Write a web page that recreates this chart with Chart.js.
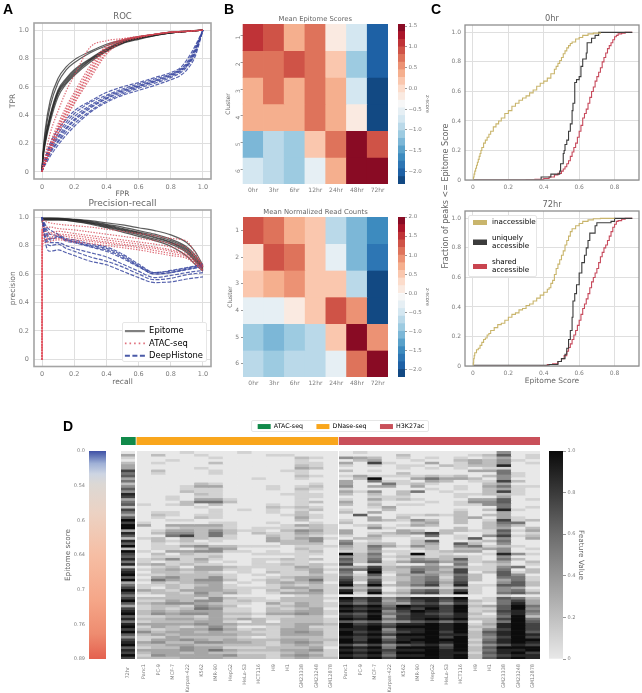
<!DOCTYPE html>
<html>
<head>
<meta charset="utf-8">
<title>Epitome figure</title>
<script src="https://cdn.jsdelivr.net/npm/chart.js@4"></script>
<style>
  html, body { margin: 0; padding: 0; background: #fff; overflow: hidden; }
  #page { position: relative; width: 642px; height: 693px; font-family: "DejaVu Sans", sans-serif; filter: blur(.35px); }
  #page canvas { position: absolute; }
  .letter { position: absolute; font: bold 14px "Liberation Sans", Arial, sans-serif; color: #000; line-height: 1; }
  .sideLabel { position: absolute; font-size: 8px; color: #666; white-space: nowrap; transform: translate(-50%, -50%) rotate(-90deg); }
  .legendBox { position: absolute; background: #fff; border: 1px solid #e6e6e6; border-radius: 2px; overflow: hidden; box-sizing: border-box; }
</style>
</head>
<body>
<div id="page"></div>
<script>
// Panel A: ROC
const rocFpr = [0, .005, .02, .05, .1, .15, .2, .3, .4, .5, .6, .7, .8, .9, 1];
const rocEpitome = [
  [0, .12, .30, .50, .66, .74, .79, .85, .90, .93, .955, .97, .985, .993, 1],
  [0, .11, .27, .46, .63, .72, .77, .84, .89, .925, .95, .97, .985, .993, 1],
  [0, .10, .24, .40, .58, .66, .72, .80, .87, .92, .945, .965, .98, .99, 1],
  [0, .10, .23, .39, .57, .65, .71, .795, .865, .915, .945, .965, .98, .99, 1],
  [0, .09, .22, .38, .56, .64, .70, .79, .86, .91, .94, .965, .98, .99, 1],
  [0, .09, .21, .37, .55, .63, .69, .785, .855, .91, .94, .96, .98, .99, 1],
  [0, .08, .20, .35, .53, .62, .68, .775, .85, .905, .935, .96, .98, .99, 1]
];
const rocAtac = [
  [0, .05, .12, .27, .43, .57, .68, .88, .925, .94, .955, .97, .985, .993, 1],
  [0, .03, .09, .20, .34, .46, .56, .75, .89, .935, .955, .97, .985, .993, 1],
  [0, .03, .08, .18, .32, .44, .54, .73, .88, .93, .955, .97, .985, .993, 1],
  [0, .03, .08, .17, .31, .42, .52, .71, .87, .93, .95, .97, .985, .99, 1],
  [0, .02, .07, .16, .30, .41, .51, .70, .86, .925, .95, .97, .985, .99, 1],
  [0, .02, .06, .15, .28, .39, .49, .68, .84, .92, .95, .97, .985, .99, 1],
  [0, .02, .06, .14, .27, .38, .48, .66, .83, .915, .945, .97, .985, .99, 1]
];
const rocDeepFpr = [0, .005, .02, .05, .1, .15, .2, .3, .4, .5, .6, .7, .8, .86, .9, .95, 1];
const rocDeep = [
  [0, .04, .10, .20, .30, .37, .43, .50, .56, .60, .63, .665, .70, .735, .79, .885, 1],
  [0, .03, .09, .18, .27, .35, .41, .49, .54, .585, .62, .655, .69, .725, .77, .87, 1],
  [0, .03, .08, .17, .25, .33, .39, .47, .53, .575, .61, .645, .685, .72, .76, .86, 1],
  [0, .03, .07, .15, .24, .31, .37, .46, .52, .57, .605, .64, .68, .715, .75, .85, 1],
  [0, .02, .07, .14, .22, .30, .36, .45, .515, .56, .60, .635, .675, .71, .75, .84, 1],
  [0, .02, .06, .13, .21, .28, .34, .43, .50, .55, .59, .625, .665, .70, .74, .83, 1],
  [0, .02, .05, .11, .19, .26, .32, .42, .49, .54, .575, .61, .65, .68, .72, .81, 1]
];

// Panel A: precision-recall
const prRecall = [0, .003, .02, .05, .1, .2, .3, .4, .5, .6, .7, .8, .9, .95, 1];
const prEpitome = [
  [1, .995, .995, .995, .993, .985, .975, .96, .945, .925, .905, .875, .82, .76, .66],
  [1, .99, .99, .99, .99, .982, .97, .95, .93, .905, .88, .845, .79, .735, .65],
  [.98, .99, .99, .99, .99, .98, .965, .945, .92, .895, .87, .835, .78, .72, .65],
  [.98, .985, .985, .985, .985, .98, .96, .94, .915, .89, .86, .825, .77, .71, .64],
  [.97, .985, .985, .985, .985, .975, .96, .935, .91, .885, .855, .82, .76, .70, .64],
  [.97, .98, .98, .98, .98, .97, .955, .93, .905, .875, .845, .81, .75, .69, .63],
  [.96, .98, .98, .98, .98, .97, .95, .925, .895, .865, .835, .795, .725, .67, .62]
];
const prAtac = [
  [0, .98, .97, .96, .95, .94, .93, .915, .90, .885, .87, .85, .83, .75, .66],
  [0, .90, .93, .93, .92, .91, .895, .88, .865, .85, .835, .815, .785, .73, .65],
  [0, .85, .90, .89, .90, .885, .87, .855, .84, .825, .81, .79, .76, .72, .65],
  [0, .88, .87, .88, .88, .87, .855, .84, .825, .81, .79, .77, .74, .70, .64],
  [0, .80, .85, .86, .87, .855, .84, .825, .81, .795, .78, .76, .73, .69, .63],
  [0, .85, .84, .85, .85, .84, .83, .815, .80, .785, .765, .745, .72, .68, .62],
  [0, .83, .82, .83, .84, .825, .815, .80, .785, .77, .75, .73, .71, .67, .62]
];
const prAtacRise = [0, .92];
const prDeepRecall = [0, .01, .03, .05, .1, .15, .2, .3, .4, .5, .6, .7, .8, .9, 1];
const prDeep = [
  [1, .97, .93, .91, .88, .85, .84, .81, .79, .74, .67, .61, .625, .645, .67],
  [1, .96, .91, .88, .87, .84, .83, .80, .78, .73, .66, .61, .62, .64, .665],
  [1, .95, .89, .85, .865, .84, .825, .795, .77, .72, .655, .60, .61, .635, .655],
  [1, .94, .87, .84, .86, .83, .82, .79, .76, .71, .65, .60, .61, .63, .65],
  [1, .92, .84, .82, .82, .80, .78, .75, .72, .67, .62, .575, .59, .61, .625],
  [1, .91, .82, .80, .81, .78, .76, .72, .69, .65, .60, .56, .57, .595, .61],
  [1, .90, .78, .76, .77, .75, .73, .69, .665, .62, .575, .54, .545, .565, .58]
];

// Panel B: heatmaps
const hours = ['0hr', '3hr', '6hr', '12hr', '24hr', '48hr', '72hr'];
const clusters = ['1', '2', '3', '4', '5', '6'];
const epitomeScores = [
  [1.09, .91, .36, .72, -.19, -.74, -2.02],
  [.72, .72, .91, .72, .17, -1.11, -2.02],
  [.36, .72, .36, .72, .36, -.74, -2.21],
  [.36, .36, .36, .72, .36, -.19, -2.21],
  [-1.29, -.93, -1.11, .17, .72, 1.46, .91],
  [-.74, -.93, -1.11, -.56, .36, 1.46, 1.46]
];
const readCounts = [
  [1.3, 1.1, .7, .5, -.7, -1.1, -1.5],
  [.3, 1.3, 1.1, .5, -.3, -1.1, -1.7],
  [.5, .7, .9, .5, .5, -.7, -2.1],
  [-.3, -.3, .1, .5, 1.3, .9, -2.1],
  [-.9, -1.1, -.9, -.7, .5, 1.9, .9],
  [-.7, -.9, -.7, -.7, -.3, 1.1, 1.9]
];
const scoreEdges = [-2.3, -2.117, -1.933, -1.75, -1.567, -1.383, -1.2, -1.017, -.833, -.65, -.467, -.283, -.1, .083, .267, .45, .633, .817, 1, 1.183, 1.367, 1.55];
const countEdges = [-2.2, -2, -1.8, -1.6, -1.4, -1.2, -1, -.8, -.6, -.4, -.2, 0, .2, .4, .6, .8, 1, 1.2, 1.4, 1.6, 1.8, 2];
const rdbu = ['#124983', '#1e61a5', '#2d76b4', '#3d8bbf', '#59a1ca', '#7cb7d7', '#9dcbe1', '#bad9e9', '#d4e7f1', '#e6eff4', '#f7f7f7',
  '#faeae1', '#fcdccb', '#fac7ae', '#f5af8e', '#ec9274', '#de735b', '#cf5347', '#bf3337', '#ab162a', '#890b24'];

// Panel C: empirical CDFs
const tan0X = [0, .003, .006, .01, .015, .02, .025, .03, .035, .04, .045, .05, .06, .07, .08, .09, .1, .115, .13, .145, .16, .18, .2, .22, .24, .26, .28, .3, .32, .34, .36, .38, .4, .42, .44, .46, .47, .48, .49, .5, .51, .52, .53, .54, .55, .56, .58, .6, .62, .65, .68, .72];
const tan0Y = [0, .02, .04, .06, .08, .1, .12, .14, .16, .18, .2, .22, .25, .27, .29, .31, .33, .36, .38, .4, .42, .45, .47, .5, .52, .54, .555, .57, .59, .61, .635, .655, .67, .69, .72, .75, .77, .79, .81, .83, .855, .875, .895, .91, .925, .935, .955, .965, .98, .99, .995, 1];
const unique0X = [0, .385, .44, .49, .495, .51, .515, .52, .53, .54, .55, .56, .565, .575, .585, .6, .61, .62, .64, .645, .67, .69, .71, .9];
const unique0Y = [0, .02, .04, .06, .11, .18, .2, .24, .27, .33, .38, .47, .52, .66, .68, .7, .77, .82, .86, .93, .96, .98, 1, 1];
const shared0X = [0, .2, .3, .35, .4, .43, .46, .48, .5, .51, .52, .53, .54, .55, .56, .57, .58, .59, .6, .61, .62, .63, .64, .65, .66, .67, .68, .69, .7, .71, .72, .73, .74, .75, .76, .77, .78, .79, .8, .81, .82, .84, .86, .9];
const shared0Y = [0, 0, .002, .004, .01, .02, .035, .045, .06, .075, .09, .11, .13, .16, .19, .22, .25, .29, .33, .37, .42, .45, .48, .52, .56, .6, .63, .67, .7, .73, .76, .8, .83, .86, .89, .91, .93, .95, .97, .98, .99, .995, 1, 1];

const tan72X = [0, .002, .004, .007, .01, .02, .03, .04, .05, .06, .07, .08, .09, .1, .12, .14, .16, .18, .2, .22, .24, .26, .28, .3, .32, .34, .36, .38, .4, .42, .43, .44, .45, .46, .47, .48, .49, .5, .51, .52, .53, .54, .55, .56, .58, .6, .62, .65, .68, .72, .8];
const tan72Y = [0, .02, .05, .07, .09, .11, .12, .14, .16, .18, .19, .21, .22, .24, .26, .28, .29, .31, .33, .35, .36, .38, .39, .41, .42, .44, .46, .48, .5, .52, .53, .56, .58, .62, .66, .69, .72, .75, .78, .82, .85, .88, .91, .93, .95, .965, .98, .99, .998, 1, 1];
const unique72X = [0, .38, .43, .48, .5, .52, .53, .54, .55, .56, .565, .575, .585, .6, .615, .63, .64, .65, .66, .69, .7, .78, .8, .9];
const unique72Y = [.005, .005, .01, .03, .05, .08, .12, .18, .24, .33, .44, .49, .55, .63, .7, .75, .8, .85, .9, .95, .97, .98, 1, 1];
const shared72X = [0, .38, .42, .45, .48, .5, .515, .53, .54, .55, .56, .57, .58, .59, .6, .61, .62, .63, .64, .65, .66, .67, .68, .69, .7, .71, .72, .73, .74, .75, .76, .77, .78, .79, .8, .81, .82, .84, .86, .9];
const shared72Y = [0, .003, .01, .015, .03, .05, .07, .1, .125, .15, .18, .21, .24, .275, .31, .35, .39, .42, .455, .49, .53, .57, .6, .63, .66, .7, .74, .77, .8, .82, .85, .88, .91, .94, .96, .98, .985, .995, 1, 1];

// Panel D: feature values, one digit per cell (0 lightest, 9 darkest)
const cellLines = ['Panc1', 'PC-9', 'MCF-7', 'Karpas-422', 'K562', 'IMR-90', 'HepG2', 'HeLa-S3', 'HCT116', 'H9', 'H1', 'GM23338', 'GM23248', 'GM12878'];
const atacLabels = ['72hr'];
const groupNames = ['ATAC-seq', 'DNase-seq', 'H3K27ac'];
const groupSizes = [1, 14, 14];
const atacColumn = '03102337563524648735627536979938628692976858278969357975796378968589796478968797';
const dnaseRows = [
  '00010001000000', '02001000011000', '00000100000210', '00100000000100', '01000200000110', '00000000000210', '00001000000320', '02000100001100',
  '01000100000100', '00000000000210', '00000000100100', '00000000000000', '00002100000010', '00013300010120', '00011100010210', '00021100000100',
  '00002100001110', '00101100000110', '00103310000100', '00025520000120', '10120200010100', '00001000021210', '00000101010120', '01100100010200',
  '02101100001210', '01002100000310', '00110000000200', '10000110010010', '30333310001321', '00122210111121', '01332421102431', '02442520211321',
  '00572510021210', '12022110031341', '02120100032240', '01011000002220', '01134221110111', '01102430000210', '10334411010120', '02021100111110',
  '01111200000100', '12413100112120', '10112010101100', '23121100112121', '01203321111320', '12323311011231', '02212101021130', '11222210101121',
  '03422410012331', '15324420121351', '02123301023230', '11212310012121', '10213311113321', '32133321021241', '12214231013331', '00223200000120',
  '22221421102221', '11324412112220', '23443211031321', '12214320012321', '12125411021230', '23233311022331', '24344322133431', '11221311011220',
  '22332323212221', '12223310202221', '33334332222332', '13212420012311', '21233531213321', '42332322113431', '23233332213331', '11322221012221',
  '13343232223322', '34224433213431', '22332222212321', '12243311122230', '33343532223341', '23323221112321', '14333342213431', '22233322212322'
];
const h3k27acRows = [
  '01000000000400', '00002000012601', '43201010101301', '02300100232410', '30710030132401', '10101102122800', '00001010101100', '20100000033500',
  '00002000000510', '13111121202410', '02900353320400', '30511032011720', '30051210002300', '40330300103511', '10000010102310', '31402501002710',
  '20202000112210', '00111000100300', '10312100033601', '30100010144600', '20201100114500', '00130000000501', '10020000102810', '20300000200300',
  '06001121202300', '00302000230310', '10321420201712', '20000230202550', '01201320002420', '00410000202302', '30003202211613', '30123472001501',
  '10311050104712', '02200100160403', '40100260012500', '51220230620400', '31531420451210', '21400120223401', '11311012330400', '92501911001841',
  '42412212210400', '62501432610520', '52613553412302', '70110030501201', '33723443311450', '65822542711502', '50912633702612', '41603342520640',
  '62412451620551', '72612452620351', '80703463700462', '93923572811662', '42401221310430', '83702563710451', '91923673910563', '00101000000100',
  '97846887901652', '86835786821573', '75743674710583', '98959887923695', '87868797911694', '98947987912785', '76856876820684', '87937887811592',
  '98957898922795', '65634675702596', '97868898913897', '98979998922897', '88948898914797', '97857897926896', '98979998825898', '87848897924797',
  '97968999915899', '98979898926898', '75746786914687', '98959997926999', '87878898925889', '98969998816897', '87858898925788', '98979998926898'
];
const featureGrays = ['#e8e8e8', '#d2d2d2', '#bdbdbd', '#a6a6a6', '#8f8f8f', '#757575', '#5c5c5c', '#434343', '#262626', '#0c0c0c'];
const epitomeTicks = ['0.0', '0.54', '0.6', '0.64', '0.7', '0.76', '0.89'];

const page = document.getElementById('page');
const tickColor = '#7c7c7c';
const labelColor = '#666';
const gridColor = '#dfdfdf';

Chart.defaults.font.family = '"DejaVu Sans", sans-serif';
Chart.defaults.color = tickColor;
Chart.defaults.animation = false;
Chart.defaults.responsive = false;
Chart.defaults.events = [];
Chart.defaults.plugins.legend.display = false;
Chart.defaults.plugins.tooltip.enabled = false;

// draws the four sides of the axes box
const framePlugin = {
  id: 'frame',
  afterDatasetsDraw(chart, args, opts) {
    const a = chart.chartArea, c = chart.ctx;
    c.save();
    c.strokeStyle = opts.color;
    c.lineWidth = opts.width;
    c.strokeRect(a.left, a.top, a.right - a.left, a.bottom - a.top);
    c.restore();
  }
};

function addCanvas(box, m, parent) {
  const cv = document.createElement('canvas');
  cv.width = Math.round(box.r - box.l + m.l + m.r);
  cv.height = Math.round(box.b - box.t + m.t + m.b);
  cv.style.left = (box.l - m.l) + 'px';
  cv.style.top = (box.t - m.t) + 'px';
  (parent || page).appendChild(cv);
  return cv;
}

function addDiv(cls, text, left, top, extra) {
  const d = document.createElement('div');
  d.className = cls;
  d.textContent = text;
  d.style.left = left + 'px';
  d.style.top = top + 'px';
  if (extra) Object.assign(d.style, extra);
  page.appendChild(d);
}

// keep the plot box where it was measured: fixed axis size, no label overhang
function fixHeight(size) { return s => { s.height = size; s.paddingLeft = 0; s.paddingRight = 0; }; }
function fixWidth(size) { return s => { s.width = size; s.paddingTop = 0; s.paddingBottom = 0; }; }

function makeTitle(text, size, m, gap) {
  return {
    display: true, text: text, color: labelColor, fullSize: false,
    font: { size: size, weight: 'normal' },
    padding: { top: m.t - size * 1.2 - gap, bottom: gap }
  };
}

function lineSets(xs, curves, style) {
  return curves.map(ys => Object.assign({
    data: xs.map((x, i) => ({ x: x, y: ys[i] })),
    pointRadius: 0, fill: false
  }, style));
}

function curveChart(box, m, titleText, xName, yName, datasets) {
  return new Chart(addCanvas(box, m), {
    type: 'line',
    data: { datasets: datasets },
    options: {
      layout: { padding: { right: m.r } },
      scales: {
        x: {
          type: 'linear', min: -.05, max: 1.05,
          afterFit: fixHeight(m.b),
          grid: { color: gridColor, drawTicks: false },
          border: { display: false },
          ticks: { stepSize: .2, includeBounds: false, padding: 4, font: { size: 6.5 }, maxRotation: 0 },
          title: { display: true, text: xName, color: labelColor, font: { size: 7.5 }, padding: 0 }
        },
        y: {
          min: -.05, max: 1.05,
          afterFit: fixWidth(m.l),
          grid: { color: gridColor, drawTicks: false },
          border: { display: false },
          ticks: { stepSize: .2, includeBounds: false, padding: 5, font: { size: 6.5 } },
          title: { display: true, text: yName, color: labelColor, font: { size: 7.5 }, padding: 0 }
        }
      },
      plugins: {
        title: makeTitle(titleText, titleText === 'ROC' ? 8.5 : 9, m, 1),
        frame: { color: '#a4a4a4', width: 1.6 }
      }
    },
    plugins: [framePlugin]
  });
}

const epitomeStyle = { borderColor: 'rgba(40,40,40,.75)', borderWidth: 1.2, cubicInterpolationMode: 'monotone' };
const atacStyle = { borderColor: 'rgba(214,70,84,.8)', borderWidth: 1.2, borderDash: [1.4, 1.4], cubicInterpolationMode: 'monotone' };
const deepStyle = { borderColor: 'rgba(58,72,160,.85)', borderWidth: 1.2, borderDash: [4, 1.5], cubicInterpolationMode: 'monotone' };

curveChart({ l: 34.3, t: 23.3, r: 211.3, b: 179 }, { l: 25, t: 14, r: 2, b: 20 }, 'ROC', 'FPR', 'TPR', [
  ...lineSets(rocFpr, rocAtac, atacStyle),
  ...lineSets(rocDeepFpr, rocDeep, deepStyle),
  ...lineSets(rocFpr, rocEpitome, epitomeStyle)
]);
curveChart({ l: 34.3, t: 210, r: 211.3, b: 366 }, { l: 25, t: 14, r: 2, b: 20.5 }, 'Precision-recall', 'recall', 'precision', [
  ...lineSets([0, 0], [prAtacRise], { borderColor: '#e8606c', borderWidth: 1.3 }),
  ...lineSets(prRecall, prAtac, atacStyle),
  ...lineSets(prDeepRecall, prDeep, deepStyle),
  ...lineSets(prRecall, prEpitome, epitomeStyle)
]);

function levelColor(v, edges) {
  for (let i = 0; i < rdbu.length; i++) {
    if (v < edges[i + 1]) return rdbu[i];
  }
  return rdbu[rdbu.length - 1];
}

function heatChart(box, m, titleText, rows, edges, rotateLabels) {
  // a rotated label hangs below its anchor, so its tick sits a little higher
  const tickAt = rotateLabels ? .44 : .5;
  return new Chart(addCanvas(box, m), {
    type: 'bar',
    data: {
      labels: hours,
      datasets: rows.map(row => ({
        data: row.map(() => 1),
        backgroundColor: row.map(v => levelColor(v, edges)),
        barPercentage: 1, categoryPercentage: 1, borderWidth: 0
      }))
    },
    options: {
      layout: { padding: { right: m.r } },
      scales: {
        x: {
          stacked: true,
          afterFit: fixHeight(m.b),
          grid: { display: false, drawTicks: false },
          border: { display: false },
          ticks: { padding: 3, font: { size: 6 }, maxRotation: 0 }
        },
        y: {
          stacked: true, min: 0, max: clusters.length, reverse: true,
          afterFit: fixWidth(m.l),
          afterBuildTicks: s => { s.ticks = clusters.map((c, i) => ({ value: i + tickAt })); },
          grid: { drawOnChartArea: false, tickLength: 2, tickColor: '#999' },
          border: { display: false },
          ticks: {
            padding: 2, font: { size: 6 }, minRotation: rotateLabels ? 90 : 0, maxRotation: rotateLabels ? 90 : 0,
            callback: v => clusters[Math.floor(v)]
          },
          title: { display: true, text: 'Cluster', color: labelColor, font: { size: 6 }, padding: 0 }
        }
      },
      plugins: { title: makeTitle(titleText, 6.8, m, 1) }
    }
  });
}

function stepBar(box, m, edges) {
  return new Chart(addCanvas(box, m), {
    type: 'bar',
    data: {
      labels: ['z-score'],
      datasets: rdbu.map((col, i) => ({
        data: [[edges[i], edges[i + 1]]],
        backgroundColor: col, barPercentage: 1, categoryPercentage: 1, borderWidth: 0
      }))
    },
    options: {
      layout: { padding: { top: m.t, bottom: m.b, left: m.l } },
      scales: {
        x: { display: false, stacked: true },
        y: {
          position: 'right',
          min: edges[0], max: edges[edges.length - 1],
          afterFit: fixWidth(m.r),
          grid: { drawOnChartArea: false, tickLength: 2, tickColor: '#999' },
          border: { display: false },
          ticks: {
            stepSize: .5, includeBounds: false, padding: 1.5, font: { size: 5.5 },
            callback: v => v.toFixed(1).replace('-', '\u2212')
          },
          title: { display: true, text: 'z-score', color: labelColor, font: { size: 5 }, padding: 0 }
        }
      }
    }
  });
}

const scoreBox = { l: 243, t: 24.3, r: 388, b: 184.3 };
const countBox = { l: 243, t: 216.7, r: 388, b: 377 };
heatChart(scoreBox, { l: 17.6, t: 14, r: 0, b: 12 }, 'Mean Epitome Scores', epitomeScores, scoreEdges, true);
heatChart(countBox, { l: 16, t: 14, r: 0, b: 12 }, 'Mean Normalized Read Counts', readCounts, countEdges, false);
stepBar({ l: 397.7, t: 24.3, r: 405, b: 184.3 }, { l: 0, t: 6, r: 25, b: 3 }, scoreEdges);
stepBar({ l: 397.7, t: 216.7, r: 405, b: 377 }, { l: 0, t: 6, r: 25, b: 3 }, countEdges);

function cdfChart(box, m, titleText, xName, curves) {
  const colors = ['#c9b56c', '#3c3c3c', '#c74a5c'];
  return new Chart(addCanvas(box, m), {
    type: 'line',
    data: {
      datasets: curves.map((c, k) => ({
        data: c[0].map((x, i) => ({ x: x, y: c[1][i] })),
        borderColor: colors[k], borderWidth: 1.1, pointRadius: 0, stepped: true, fill: false
      }))
    },
    options: {
      layout: { padding: { right: m.r } },
      scales: {
        x: {
          type: 'linear', min: -.045, max: .938,
          afterFit: fixHeight(m.b),
          grid: { color: gridColor, drawTicks: false },
          border: { display: false },
          ticks: { stepSize: .2, includeBounds: false, padding: 4, font: { size: 6 }, maxRotation: 0 },
          title: { display: !!xName, text: xName, color: labelColor, font: { size: 7.5 }, padding: 0 }
        },
        y: {
          min: 0, max: 1.05,
          afterFit: fixWidth(m.l),
          grid: { color: gridColor, drawTicks: false },
          border: { display: false },
          ticks: { stepSize: .2, includeBounds: false, padding: 4, font: { size: 6 } }
        }
      },
      plugins: {
        title: makeTitle(titleText, 8.3, m, 1.5),
        frame: { color: '#8e8e8e', width: 1.3 }
      }
    },
    plugins: [framePlugin]
  });
}

cdfChart({ l: 465, t: 25.3, r: 639, b: 180.3 }, { l: 17, t: 14, r: 2, b: 12 }, '0hr', '', [[tan0X, tan0Y], [unique0X, unique0Y], [shared0X, shared0Y]]);
cdfChart({ l: 465, t: 211.3, r: 639, b: 366.7 }, { l: 17, t: 14, r: 2, b: 20 }, '72hr', 'Epitome Score', [[tan72X, tan72Y], [unique72X, unique72Y], [shared72X, shared72Y]]);
addDiv('sideLabel', 'Fraction of peaks <= Epitome Score', 445, 196);

// panel D heatmap groups
function groupChart(left, right, labels, rows, labelPad) {
  const box = { l: left, t: 450.7, r: right, b: 658.3 };
  const m = { l: 0, t: 0, r: 0, b: 34 };
  return new Chart(addCanvas(box, m), {
    type: 'bar',
    data: {
      labels: labels,
      datasets: rows.map(row => ({
        data: labels.map(() => 1),
        backgroundColor: labels.map((n, c) => featureGrays[+row[c] || 0]),
        barPercentage: 1, categoryPercentage: 1, borderWidth: 0
      }))
    },
    options: {
      scales: {
        x: {
          stacked: true,
          afterFit: fixHeight(m.b),
          grid: { display: false, drawTicks: false },
          border: { display: false },
          ticks: { padding: labelPad, font: { size: 5 }, minRotation: 90, maxRotation: 90, autoSkip: false }
        },
        y: { stacked: true, min: 0, max: rows.length, reverse: true, display: false }
      }
    }
  });
}
groupChart(121, 135.4, atacLabels, atacColumn.split(''), 8);
groupChart(136.8, 337.8, cellLines, dnaseRows, 5);
groupChart(339.2, 540.4, cellLines, h3k27acRows, 5);

// coloured strip over the groups
const groupGap = .1;
const groupColors = ['#118a4a', '#f9a61c', '#c9505a'];
let groupStart = 0;
const groupSpans = groupSizes.map(n => {
  const span = [groupStart, groupStart + n];
  groupStart += n + groupGap;
  return span;
});
new Chart(addCanvas({ l: 121, t: 436.7, r: 540.4, b: 444.3 }, { l: 0, t: 0, r: 0, b: 0 }), {
  type: 'bar',
  data: {
    labels: ['group'],
    datasets: groupNames.map((name, i) => ({
      label: name, data: [groupSpans[i]], backgroundColor: groupColors[i],
      barPercentage: 1, categoryPercentage: 1, borderWidth: 0
    }))
  },
  options: {
    indexAxis: 'y',
    scales: {
      x: { display: false, min: 0, max: groupSpans[2][1] },
      y: { display: false, stacked: true }
    }
  }
});

// side colour bars of panel D, filled with gradients over the canvas height
function gradientBar(box, m, stops, yOpts) {
  const cv = addCanvas(box, m);
  const grad = cv.getContext('2d').createLinearGradient(0, m.t, 0, m.t + box.b - box.t);
  stops.forEach(s => grad.addColorStop(s[0], s[1]));
  const isLeft = yOpts.position === 'left';
  return new Chart(cv, {
    type: 'bar',
    data: {
      labels: [yOpts.title.text],
      datasets: [{ data: [yOpts.max], backgroundColor: grad, barPercentage: 1, categoryPercentage: 1, borderWidth: 0 }]
    },
    options: {
      layout: { padding: { top: m.t, bottom: m.b, left: isLeft ? 0 : m.l, right: isLeft ? m.r : 0 } },
      scales: {
        x: { display: false },
        y: Object.assign({
          afterFit: fixWidth(isLeft ? m.l : m.r),
          border: { display: false }
        }, yOpts)
      }
    }
  });
}

const epitomeStops = [[0, '#3f51a6'], [.025, '#6478b8'], [.06, '#9fb0d6'], [.11, '#cdd5e3'], [.16, '#dcd8d4'], [.3, '#ecd2c3'], [.5, '#f6bea4'], [.72, '#f5a688'], [.88, '#ee8c70'], [1, '#e4614f']];
const featureStops = [[0, '#0a0a0a'], [.2, '#3a3a3a'], [.4, '#6b6b6b'], [.6, '#969696'], [.8, '#bfbfbf'], [1, '#e8e8e8']];
gradientBar({ l: 89.3, t: 450.7, r: 106, b: 658.3 }, { l: 25, t: 4, r: 0, b: 4 }, epitomeStops, {
  position: 'left', min: 0, max: epitomeTicks.length - 1, reverse: true,
  grid: { display: false, drawTicks: false },
  ticks: { stepSize: 1, padding: 4, font: { size: 5 }, callback: v => epitomeTicks[v] },
  title: { display: true, text: 'Epitome score', color: labelColor, font: { size: 7.3 }, padding: 0 }
});
gradientBar({ l: 549.3, t: 450.7, r: 563.3, b: 658.3 }, { l: 0, t: 4, r: 22, b: 4 }, featureStops, {
  position: 'right', min: 0, max: 1,
  grid: { drawOnChartArea: false, tickLength: 3, tickColor: '#999' },
  ticks: { stepSize: .2, padding: 1.5, font: { size: 5 } },
  title: { display: true, text: 'Feature Value', color: labelColor, font: { size: 7.3 }, padding: 0 }
});

// legends, each a small chart laid over its panel; the frame clips the spare canvas
function legendChart(left, top, width, height, opts) {
  const frame = document.createElement('div');
  frame.className = 'legendBox';
  Object.assign(frame.style, { left: left + 'px', top: top + 'px', width: width + 'px', height: height + 'px' });
  page.appendChild(frame);
  const cv = document.createElement('canvas');
  cv.width = opts.canvasWidth || width * 3;
  cv.height = height + 30;
  cv.style.left = (opts.shiftX || 0) + 'px';
  cv.style.top = (opts.shiftY || 0) + 'px';
  frame.appendChild(cv);
  return new Chart(cv, {
    type: 'line',
    data: { labels: [], datasets: [] },
    options: {
      scales: { x: { display: false }, y: { display: false } },
      plugins: {
        legend: {
          display: true, position: opts.position, align: opts.align,
          labels: Object.assign({ generateLabels: () => opts.items, color: labelColor }, opts.labels)
        }
      }
    }
  });
}

// legend swatch as a point style: a two-line entry gets its swatch dropped to mid height
function swatch(color, drop) {
  const c = document.createElement('canvas');
  c.width = 14;
  c.height = Math.round(2 * drop + 5);
  const g = c.getContext('2d');
  g.fillStyle = color;
  g.fillRect(0, c.height - 5, 14, 5);
  return c;
}

legendChart(122.3, 322.3, 85, 40, {
  position: 'left', align: 'start', shiftX: -2,
  labels: { usePointStyle: true, pointStyleWidth: 20, boxHeight: 8, padding: 3.9, font: { size: 8.4 } },
  items: [
    { text: 'Epitome', pointStyle: 'line', strokeStyle: '#808080', lineWidth: 2.2 },
    { text: 'ATAC-seq', pointStyle: 'line', strokeStyle: '#e0707c', lineWidth: 1.6, lineDash: [1.6, 3] },
    { text: 'DeepHistone', pointStyle: 'line', strokeStyle: '#4a5aa8', lineWidth: 2, lineDash: [5, 2.5] }
  ]
});
legendChart(468.3, 215, 69, 62, {
  position: 'left', align: 'start', shiftX: -6, shiftY: -6,
  labels: { usePointStyle: true, pointStyleWidth: 16.8, boxHeight: 8, padding: 8.6, font: { size: 7.2, lineHeight: 1.1 } },
  items: [
    { text: 'inaccessible', pointStyle: swatch('#c9b56c', 0) },
    { text: ['uniquely', 'accessible'], pointStyle: swatch('#3c3c3c', 4) },
    { text: ['shared', 'accessible'], pointStyle: swatch('#c9444f', 4) }
  ]
});
legendChart(250.7, 419.5, 178, 12, {
  position: 'top', align: 'center', canvasWidth: 230, shiftX: -26, shiftY: -10.5,
  labels: { boxWidth: 13, boxHeight: 5, padding: 13.4, font: { size: 6.3 } },
  items: groupNames.map((name, i) => ({ text: name, fillStyle: groupColors[i], strokeStyle: groupColors[i], lineWidth: 0 }))
});

addDiv('letter', 'A', 3, 2);
addDiv('letter', 'B', 224, 2);
addDiv('letter', 'C', 431, 2);
addDiv('letter', 'D', 63, 419);
</script>
</body>
</html>
